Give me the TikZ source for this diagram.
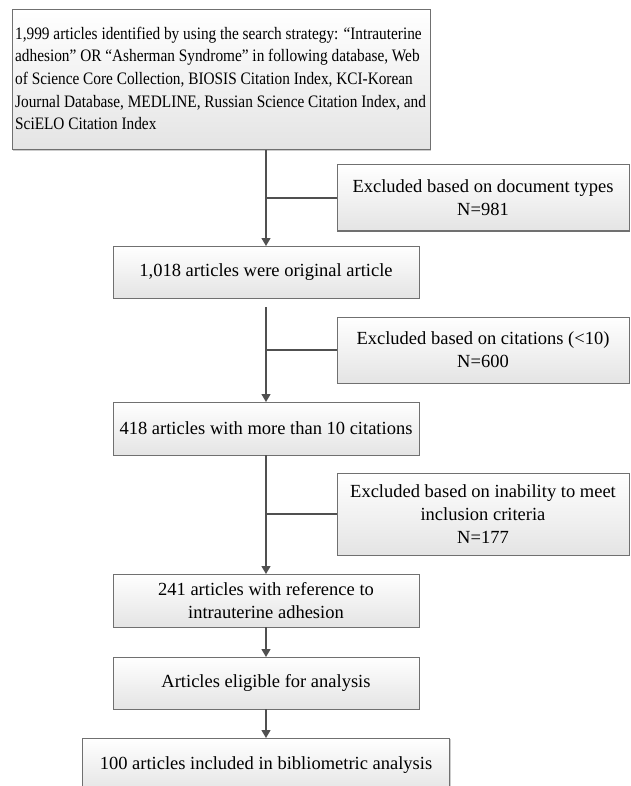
\documentclass[tikz,border=0pt]{standalone}
\usepackage{fontspec}
\setmainfont{Liberation Serif}
\usetikzlibrary{arrows.meta,shadows}
\definecolor{boxline}{RGB}{112,112,112}
\definecolor{boxbot}{RGB}{228,228,228}
\definecolor{linecol}{RGB}{80,80,80}
\begin{document}
\begin{tikzpicture}[x=1pt,y=-1pt,
  box/.style={draw=boxline, line width=1pt, top color=white, bottom color=boxbot,
    inner sep=0pt, outer sep=0pt, font=\fontsize{18.5}{23}\selectfont, align=center,
    drop shadow={shadow xshift=1.2pt, shadow yshift=-1.2pt, fill=black, opacity=0.2}},
  conn/.style={draw=linecol, line width=1.3pt},
  arr/.style={conn, -{Triangle[length=8pt,width=9pt]}}]
\useasboundingbox (0,0) rectangle (630,786);
\node[box, minimum width=418pt, minimum height=140pt] (top) at (221,80) {};
\node[anchor=west, inner sep=0pt] (toptext) at (15,80)
 {\scalebox{0.875}[1]{\fontsize{17.5}{22.7}\selectfont
  \begin{tabular}{@{}l@{}}
  1,999 articles identified by using the search strategy: “Intrauterine\\
  adhesion” OR “Asherman Syndrome” in following database, Web\\
  of Science Core Collection, BIOSIS Citation Index, KCI-Korean\\
  Journal Database, MEDLINE, Russian Science Citation Index, and\\
  SciELO Citation Index
  \end{tabular}}};
\node[box, minimum width=292pt, minimum height=66pt] (ex1) at (483,198)
 {Excluded based on document types\\N=981};
\node[box, minimum width=306pt, minimum height=52pt] (b1018) at (266,272)
 {1,018 articles were original article};
\node[box, minimum width=292pt, minimum height=66pt] (ex2) at (483,350)
 {Excluded based on citations (<10)\\N=600};
\node[box, minimum width=306pt, minimum height=53pt] (b418) at (266,428.5)
 {418 articles with more than 10 citations};
\node[box, minimum width=292pt, minimum height=82pt] (ex3) at (483,514)
 {Excluded based on inability to meet\\inclusion criteria\\N=177};
\node[box, minimum width=306pt, minimum height=53pt] (b241) at (266,600.5)
 {241 articles with reference to\\intrauterine adhesion};
\node[box, minimum width=306pt, minimum height=52pt] (belig) at (266,683)
 {Articles eligible for analysis};
\node[box, minimum width=367pt, minimum height=54pt] (b100) at (266,765)
 {100 articles included in bibliometric analysis};
\draw[arr] (top.south -| b1018.north) -- (b1018.north);
\draw[conn] (ex1.west -| b1018.north) -- (ex1.west);
\draw[arr] ([yshift=-9pt]b1018.south) -- (b418.north);
\draw[conn] (ex2.west -| b418.north) -- (ex2.west);
\draw[arr] (b418.south) -- (b241.north);
\draw[conn] (ex3.west -| b241.north) -- (ex3.west);
\draw[arr] (b241.south) -- (belig.north);
\draw[arr] (belig.south) -- (b100.north);
\end{tikzpicture}
\end{document}
